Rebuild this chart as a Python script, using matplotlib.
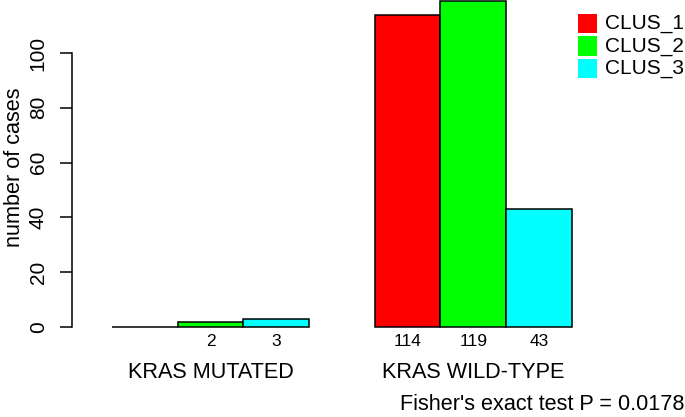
import matplotlib
matplotlib.use("Agg")
import matplotlib.pyplot as plt
from matplotlib.patches import Rectangle

plt.rcParams['font.family'] = ['Liberation Sans', 'DejaVu Sans']

groups = ["KRAS MUTATED", "KRAS WILD-TYPE"]
clusters = ["CLUS_1", "CLUS_2", "CLUS_3"]
colors = ["#FF0000", "#00FF00", "#00FFFF"]
counts = {
    "CLUS_1": [0, 114],
    "CLUS_2": [2, 119],
    "CLUS_3": [3, 43],
}
yticks = [0, 20, 40, 60, 80, 100]
annotation = "Fisher's exact test P = 0.0178"

W, H = 685, 417
fig = plt.figure(figsize=(W / 100, H / 100), dpi=100)

# axes placement in pixels
px_per_unit = 65.7
x_first = 112.0  # pixel of x=1
ax_left_px, ax_right_px = 72.0, 576.0
y0_px = 327.0
ypx_per_unit = 2.74
ymax = 119.3
ytop_px = y0_px - ymax * ypx_per_unit
xlim = (1 + (ax_left_px - x_first) / px_per_unit, 1 + (ax_right_px - x_first) / px_per_unit)
ax = fig.add_axes([ax_left_px / W, 1 - y0_px / H, (ax_right_px - ax_left_px) / W, (y0_px - ytop_px) / H])
ax.set_xlim(*xlim)
ax.set_ylim(0, ymax)

ncl = len(clusters)
for gi, g in enumerate(groups):
    start = 1 + gi * (ncl + 1)
    for ci, c in enumerate(clusters):
        x = start + ci
        v = counts[c][gi]
        ax.bar(x, v, width=1, align='edge', color=colors[ci], edgecolor='black',
               linewidth=1.1, clip_on=False)
        if v > 0:
            ax.text(x + 0.5, -5.3, str(v), ha='center', va='center', fontsize=12.5,
                    clip_on=False)
    ax.text(start + ncl / 2, -16.5, g, ha='center', va='center', fontsize=15.6,
            clip_on=False)

for s in ['top', 'right', 'bottom']:
    ax.spines[s].set_visible(False)
ax.spines['left'].set_bounds(0, 100)
ax.spines['left'].set_linewidth(1.1)
ax.set_xticks([])
ax.set_yticks(yticks)
ax.set_yticklabels([str(t) for t in yticks], rotation=90, va='center', fontsize=15)
ax.tick_params(axis='y', length=8.5, width=1.1, pad=9)

fig.text(15 / W, 1 - 167 / H, "number of cases", rotation=90, ha='center', va='center',
         fontsize=15.6)

# legend (outside right)
box = 19
for i, (c, col) in enumerate(zip(clusters, colors)):
    cy = 23.5 + i * 22.5
    fig.patches.append(Rectangle((578 / W, 1 - (cy + box / 2) / H), box / W, box / H,
                                 transform=fig.transFigure, facecolor=col,
                                 edgecolor='none'))
    fig.text(605 / W, 1 - cy / H, c, ha='left', va='center', fontsize=15)

fig.text(684 / W, 1 - 405 / H, annotation, ha='right', va='center', fontsize=15.6)

fig.savefig("out.png", dpi=100)
